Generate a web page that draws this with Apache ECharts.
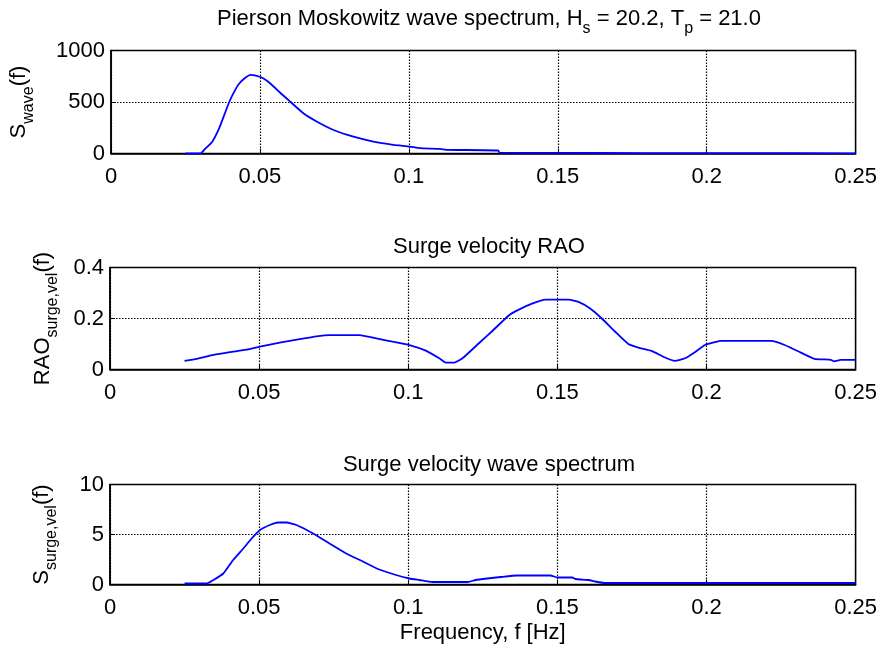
<!DOCTYPE html>
<html>
<head>
<meta charset="utf-8">
<script src="https://cdn.jsdelivr.net/npm/echarts@6/dist/echarts.min.js"></script>
<style>
html,body{margin:0;padding:0;background:#fff;}
#chart{width:880px;height:650px;}
</style>
</head>
<body>
<div id="chart"></div>
<script>
// ---- data ----
var xTicks = [0, 0.05, 0.1, 0.15, 0.2, 0.25];

// Pierson Moskowitz wave spectrum
var waveF = [0.025, 0.030, 0.0315, 0.034, 0.0363, 0.038, 0.0397, 0.0413, 0.043, 0.0453, 0.0469, 0.0486, 0.0508, 0.0536, 0.0569, 0.0603, 0.0647, 0.0692, 0.0747, 0.0814, 0.0881, 0.0948, 0.1004, 0.1037, 0.1104, 0.1126, 0.130, 0.1305, 0.15, 0.18, 0.21, 0.25];
var waveS = [0, 0, 42, 115, 244, 372, 500, 596, 677, 740, 763, 757, 735, 677, 587, 500, 388, 308, 228, 163, 115, 84, 67, 52, 45, 36, 29, 8, 6, 4, 3, 2];
var waveYTicks = [0, 500, 1000];

// Surge velocity RAO
var raoF = [0.025, 0.0291, 0.0347, 0.0402, 0.0458, 0.0503, 0.0569, 0.0636, 0.0692, 0.0736, 0.0837, 0.0893, 0.0948, 0.1004, 0.1059, 0.1104, 0.1126, 0.1154, 0.1182, 0.1237, 0.1282, 0.1338, 0.1371, 0.1415, 0.146, 0.1538, 0.1571, 0.161, 0.1649, 0.1694, 0.1738, 0.1772, 0.1816, 0.1861, 0.1894, 0.1928, 0.1961, 0.1995, 0.2028, 0.205, 0.2217, 0.2262, 0.2317, 0.2362, 0.2417, 0.2428, 0.245, 0.25];
var raoV = [0.034, 0.042, 0.057, 0.068, 0.078, 0.090, 0.105, 0.119, 0.130, 0.135, 0.135, 0.122, 0.109, 0.096, 0.074, 0.044, 0.027, 0.027, 0.044, 0.103, 0.151, 0.213, 0.235, 0.258, 0.274, 0.274, 0.265, 0.239, 0.200, 0.148, 0.100, 0.086, 0.073, 0.047, 0.034, 0.044, 0.068, 0.096, 0.107, 0.112, 0.112, 0.096, 0.066, 0.042, 0.038, 0.032, 0.038, 0.038];
var raoYTicks = [0, 0.2, 0.4];

// Surge velocity wave spectrum
var surgeF = [0.025, 0.0325, 0.0347, 0.038, 0.0413, 0.0447, 0.0475, 0.0503, 0.0536, 0.0564, 0.0592, 0.0625, 0.0681, 0.0736, 0.0792, 0.0848, 0.0903, 0.0959, 0.1004, 0.1037, 0.1081, 0.120, 0.1226, 0.1265, 0.131, 0.1365, 0.1477, 0.150, 0.155, 0.156, 0.1605, 0.1627, 0.166, 0.25];
var surgeS = [0.1, 0.1, 0.45, 1.1, 2.45, 3.6, 4.6, 5.45, 5.95, 6.2, 6.2, 5.95, 5.1, 4.1, 3.1, 2.3, 1.5, 0.95, 0.6, 0.45, 0.25, 0.25, 0.45, 0.6, 0.75, 0.9, 0.9, 0.7, 0.7, 0.55, 0.45, 0.3, 0.15, 0.15];
var surgeYTicks = [0, 5, 10];

// ---- chart ----
var FONT = 'Liberation Sans, Arial, sans-serif';
var FS = 22, SFS = 16;
function zip(a, b) { return a.map(function (v, i) { return [v, b[i]]; }); }

var grids = [
  {left: 110, width: 748, top: 50.5, height: 103},
  {left: 110, width: 748, top: 267.5, height: 102},
  {left: 110, width: 748, top: 484.5, height: 100}
];
grids.forEach(function (g) { g.show = true; g.borderColor = '#000'; g.borderWidth = 1.5; g.backgroundColor = 'transparent'; });

var rich = {
  m: {fontSize: FS, fontFamily: FONT, color: '#000', lineHeight: 26, verticalAlign: 'top'},
  s: {fontSize: SFS, fontFamily: FONT, color: '#000', lineHeight: 18, padding: [13, 0, 0, 0], verticalAlign: 'top'}
};

function xAxis(i, extra) {
  var a = {
    type: 'value', gridIndex: i, min: xTicks[0], max: xTicks[xTicks.length - 1],
    interval: xTicks[1] - xTicks[0],
    axisLine: {show: true, onZero: false, lineStyle: {color: '#000', width: 1.5}},
    axisTick: {show: true, inside: true, length: 5, lineStyle: {color: '#000'}},
    axisLabel: {color: '#000', fontSize: FS, fontFamily: FONT, margin: 12},
    splitLine: {show: true, lineStyle: {color: '#000', type: [1.5, 1.5], width: 1.2}}
  };
  return Object.assign(a, extra || {});
}
function yAxis(i, ticks, name, gap) {
  return {
    type: 'value', gridIndex: i, min: ticks[0], max: ticks[ticks.length - 1],
    interval: ticks[1] - ticks[0],
    axisLine: {show: true, lineStyle: {color: '#000', width: 1.5}},
    axisTick: {show: true, inside: true, length: 5, lineStyle: {color: '#000'}},
    axisLabel: {color: '#000', fontSize: FS, fontFamily: FONT, margin: 6,
      formatter: function (v) { return String(+v.toFixed(6)); }},
    splitLine: {show: true, lineStyle: {color: '#000', type: [1.5, 1.5], width: 1.2}},
    name: name, nameLocation: 'middle', nameRotate: 90, nameGap: gap,
    nameTextStyle: {color: '#000', fontFamily: FONT, fontSize: FS, rich: rich}
  };
}

var lineStyle = {color: '#0000ff', width: 1.8};

var option = {
  animation: false,
  backgroundColor: '#fff',
  textStyle: {fontFamily: FONT},
  title: [
    {text: '{m|Pierson Moskowitz wave spectrum, H}{s|s}{m| = 20.2, T}{s|p}{m| = 21.0}', left: 484, top: 3, textAlign: 'center',
     textStyle: {fontSize: FS, fontWeight: 'normal', color: '#000', rich: rich}},
    {text: 'Surge velocity RAO', left: 484, top: 231, textAlign: 'center',
     textStyle: {fontSize: FS, fontWeight: 'normal', color: '#000', fontFamily: FONT}},
    {text: 'Surge velocity wave spectrum', left: 484, top: 449, textAlign: 'center',
     textStyle: {fontSize: FS, fontWeight: 'normal', color: '#000', fontFamily: FONT}}
  ],
  grid: grids,
  xAxis: [
    xAxis(0), xAxis(1),
    xAxis(2, {name: 'Frequency, f [Hz]', nameLocation: 'middle', nameGap: 37,
      nameTextStyle: {color: '#000', fontSize: FS, fontFamily: FONT}})
  ],
  yAxis: [
    yAxis(0, waveYTicks, '{m|S}{s|wave}{m|(f)}', 77),
    yAxis(1, raoYTicks, '{m|RAO}{s|surge,vel}{m|(f)}', 52),
    yAxis(2, surgeYTicks, '{m|S}{s|surge,vel}{m|(f)}', 53)
  ],
  series: [
    {type: 'line', xAxisIndex: 0, yAxisIndex: 0, data: zip(waveF, waveS), showSymbol: false, smooth: 0.15, lineStyle: lineStyle, z: 5},
    {type: 'line', xAxisIndex: 1, yAxisIndex: 1, data: zip(raoF, raoV), showSymbol: false, smooth: 0.15, lineStyle: lineStyle, z: 5},
    {type: 'line', xAxisIndex: 2, yAxisIndex: 2, data: zip(surgeF, surgeS), showSymbol: false, smooth: 0.15, lineStyle: lineStyle, z: 5}
  ]
};
var chart = echarts.init(document.getElementById('chart'), null, {renderer: 'canvas'});
chart.setOption(option);
</script>
</body>
</html>
